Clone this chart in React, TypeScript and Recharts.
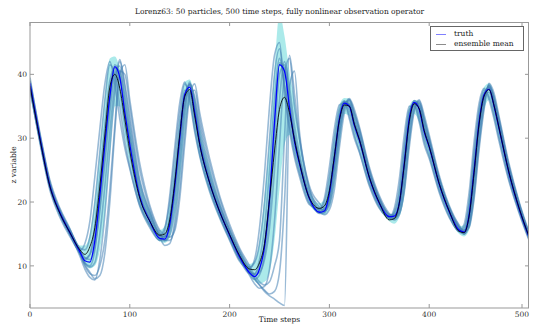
import React from 'react';
import { ComposedChart, Line, Area, XAxis, YAxis } from 'recharts';

// time grid (finer around the rising phases)
const steps = [
  0, 10, 20, 30, 40, 50,
  55, 60, 65, 70, 75, 80, 85, 90, 95, 100,
  110, 120, 130,
  135, 140, 145, 150, 155, 160, 165, 170,
  180, 190, 200, 210, 220,
  225, 230, 235, 240, 245, 250, 255, 260, 265, 270,
  280, 290,
  295, 300, 305, 310, 315, 320, 325, 330,
  340, 350, 360,
  365, 370, 375, 380, 385, 390, 395, 400,
  410, 420, 430,
  435, 440, 445, 450, 455, 460, 465, 470,
  480, 490, 500,
];

const truth = [
  38.6, 30.0, 22.5, 18.3, 15.2, 12.2,
  10.8, 10.6, 14.0, 21.0, 29.0, 36.5, 41.2, 39.5, 34.0, 29.0,
  20.8, 17.0, 14.3,
  14.2, 16.5, 22.5, 30.0, 36.8, 38.0, 34.0, 29.2,
  23.0, 18.5, 14.8, 11.4, 8.9,
  8.3, 9.5, 13.0, 20.5, 32.5, 41.5, 40.5, 34.8, 29.5, 26.0,
  20.5, 18.4,
  18.6, 21.4, 27.0, 33.0, 35.5, 35.0, 32.0, 29.7,
  23.8, 19.8, 17.7,
  17.8, 19.8, 26.0, 33.0, 35.6, 34.5, 31.0, 28.6,
  22.8, 18.5, 15.6,
  15.3, 18.0, 25.0, 32.5, 36.8, 37.7, 35.0, 31.5,
  24.5, 19.0, 14.5,
];

const ensembleMean = [
  38.2, 29.8, 22.4, 18.2, 15.2, 12.5,
  11.8, 13.0, 16.0, 22.5, 30.5, 38.0, 40.0, 37.8, 33.0, 28.0,
  20.6, 17.0, 14.8,
  15.0, 17.2, 23.0, 30.5, 36.5, 37.6, 33.5, 29.0,
  23.0, 18.5, 14.9, 11.6, 9.5,
  9.4, 10.5, 13.5, 20.5, 28.0, 34.5, 36.4, 34.0, 29.8, 26.2,
  20.6, 19.0,
  19.4, 21.8, 27.2, 32.8, 35.2, 35.0, 32.2, 29.8,
  23.9, 19.9, 17.2,
  17.4, 19.8, 25.8, 32.6, 35.4, 34.6, 31.2, 28.7,
  22.9, 18.6, 15.4,
  15.2, 17.8, 24.6, 32.2, 36.6, 37.6, 35.1, 31.6,
  24.6, 19.1, 14.6,
];

const spreadLow = [
  37.2, 29.0, 21.8, 17.6, 14.6, 11.6,
  10.2, 9.6, 10.0, 12.5, 18.0, 27.0, 35.0, 35.0, 30.0, 25.8,
  19.3, 16.0, 13.8,
  13.6, 14.4, 17.5, 23.0, 31.0, 35.2, 31.0, 27.0,
  21.5, 17.4, 14.0, 10.7, 8.6,
  7.6, 7.2, 7.5, 9.0, 14.0, 22.0, 29.0, 30.5, 27.5, 24.3,
  19.6, 18.2,
  18.0, 19.0, 22.5, 28.5, 33.8, 33.5, 30.2, 27.9,
  22.6, 19.0, 17.0,
  16.6, 17.6, 21.0, 28.5, 33.8, 32.5, 29.5, 26.9,
  21.6, 17.6, 15.0,
  14.6, 15.6, 20.5, 28.2, 34.5, 36.0, 33.2, 29.8,
  23.4, 18.4, 14.0,
];

const spreadHigh = [
  39.4, 30.7, 23.1, 18.9, 15.9, 13.2,
  13.2, 15.0, 20.5, 28.0, 36.5, 42.5, 42.8, 41.0, 37.5, 32.5,
  23.5, 18.8, 15.6,
  16.2, 20.0, 26.5, 33.5, 38.8, 39.2, 36.5, 32.0,
  25.5, 20.0, 15.9, 12.5, 10.3,
  10.8, 14.0, 21.0, 30.0, 41.0, 49.5, 46.0, 40.5, 36.0, 30.0,
  22.0, 19.8,
  20.4, 24.5, 31.0, 35.2, 36.3, 36.2, 34.2, 31.6,
  25.2, 20.8, 18.0,
  18.6, 22.5, 29.5, 35.0, 36.0, 35.8, 33.5, 30.4,
  24.2, 19.6, 16.2,
  16.4, 21.0, 28.5, 35.0, 38.0, 38.6, 36.8, 33.2,
  25.8, 19.9, 15.2,
];

const particleA = [
  39.5, 30.5, 23.0, 18.5, 15.5, 12.8,
  12.5, 14.5, 20.0, 28.0, 36.0, 41.5, 40.0, 35.0, 29.5, 25.5,
  19.5, 16.5, 14.8,
  16.0, 20.0, 27.0, 34.0, 38.5, 36.5, 31.5, 27.5,
  22.0, 17.8, 14.2, 11.0, 9.8,
  10.5, 13.5, 20.0, 30.0, 40.0, 44.0, 38.0, 32.0, 27.5, 24.5,
  19.8, 18.8,
  20.0, 24.0, 30.0, 34.5, 35.8, 33.5, 30.5, 28.0,
  22.8, 19.2, 17.5,
  18.5, 22.0, 29.0, 34.5, 35.3, 33.0, 29.5, 27.2,
  21.8, 17.8, 15.4,
  16.0, 20.0, 28.0, 34.5, 37.5, 36.5, 33.5, 30.0,
  23.5, 18.5, 14.2,
];

const particleB = [
  37.5, 29.5, 22.3, 18.2, 15.0, 11.5,
  9.5, 8.2, 7.8, 11.0, 18.0, 28.0, 37.0, 42.0, 38.5, 33.5,
  23.5, 18.5, 14.5,
  13.2, 13.5, 17.0, 24.5, 33.0, 38.5, 36.5, 32.0,
  25.0, 19.8, 15.5, 12.0, 8.5,
  7.2, 6.5, 6.8, 9.5, 17.0, 29.0, 40.0, 42.5, 35.0, 30.0,
  22.0, 18.6,
  18.0, 18.8, 22.0, 28.5, 34.0, 36.0, 34.0, 31.5,
  25.0, 20.5, 17.8,
  17.2, 18.0, 22.0, 29.5, 34.5, 35.8, 33.0, 30.0,
  23.8, 19.0, 16.0,
  15.0, 16.2, 21.0, 29.0, 35.0, 38.3, 36.5, 33.0,
  25.5, 19.8, 14.8,
];

const particleC = [
  38.2, 29.8, 22.6, 18.5, 15.4, 12.0,
  10.0, 8.8, 8.5, 10.0, 14.0, 22.0, 32.0, 40.5, 40.0, 35.0,
  25.0, 19.0, 15.2,
  14.0, 14.0, 16.0, 22.0, 30.5, 37.0, 37.5, 33.0,
  26.0, 20.5, 16.0, 12.5, 9.5,
  8.0, 7.0, 6.0, 5.3, 4.8, 4.2, 3.8, 33.5, 30.0, 26.5,
  20.8, 18.2,
  18.3, 20.5, 26.0, 32.5, 35.8, 35.3, 32.5, 30.2,
  24.3, 20.2, 17.4,
  17.3, 19.3, 25.0, 32.5, 35.9, 35.0, 31.6, 29.2,
  23.2, 18.8, 15.9,
  15.0, 17.4, 24.0, 31.8, 36.6, 38.0, 35.6, 32.0,
  25.0, 19.3, 14.9,
];

const particleD = [
  38.9, 30.4, 23.0, 18.8, 15.7, 12.6,
  11.3, 11.0, 13.0, 18.5, 26.0, 34.0, 40.0, 41.3, 36.5, 31.2,
  22.3, 17.8, 14.8,
  14.5, 15.8, 21.0, 28.5, 35.5, 38.8, 35.2, 30.2,
  23.8, 19.2, 15.3, 11.9, 9.2,
  8.6, 9.0, 11.0, 16.0, 25.0, 36.0, 42.0, 38.0, 32.0, 27.5,
  21.3, 18.9,
  18.8, 20.8, 25.8, 31.8, 35.3, 35.7, 33.2, 30.6,
  24.6, 20.4, 18.1,
  17.9, 19.2, 24.5, 31.8, 35.4, 35.4, 32.2, 29.5,
  23.5, 19.1, 16.1,
  15.6, 17.2, 23.5, 31.2, 36.3, 38.2, 35.8, 32.4,
  25.2, 19.6, 15.1,
];

const particleE = [
  38.0, 29.6, 22.2, 18.0, 14.9, 12.0,
  11.0, 11.8, 16.5, 24.0, 32.0, 39.0, 41.0, 37.5, 32.0, 27.5,
  20.0, 16.4, 14.0,
  14.5, 18.0, 24.5, 32.0, 37.5, 37.2, 32.8, 28.4,
  22.4, 18.0, 14.4, 11.0, 8.8,
  8.8, 11.0, 16.0, 25.0, 36.0, 42.5, 38.5, 33.5, 28.5, 25.3,
  20.2, 18.4,
  19.2, 22.5, 28.3, 33.8, 35.6, 34.4, 31.4, 29.2,
  23.3, 19.5, 17.6,
  18.2, 20.8, 27.5, 34.0, 35.5, 33.8, 30.3, 28.0,
  22.3, 18.2, 15.4,
  15.6, 19.0, 26.5, 33.5, 37.2, 37.2, 34.4, 31.0,
  24.0, 18.7, 14.3,
];

const particleF = [
  39.0, 30.8, 23.4, 19.0, 15.8, 12.0,
  10.2, 9.0, 8.0, 8.5, 12.0, 20.0, 31.0, 40.0, 41.5, 36.0,
  26.0, 19.5, 15.6,
  14.8, 14.5, 15.5, 20.5, 29.0, 36.5, 38.5, 34.0,
  26.8, 21.0, 16.5, 12.8, 10.0,
  8.5, 7.5, 7.0, 7.5, 10.0, 14.0, 30.0, 43.0, 37.0, 30.0,
  22.0, 19.2,
  18.6, 19.5, 23.5, 30.0, 34.8, 36.2, 34.5, 31.8,
  25.5, 21.0, 18.2,
  17.6, 18.2, 21.5, 28.5, 34.2, 36.0, 33.6, 30.5,
  24.2, 19.5, 16.4,
  15.4, 16.0, 20.5, 28.2, 34.5, 38.6, 37.0, 33.4,
  26.0, 20.1, 15.3,
];

const particleG = [
  37.8, 29.2, 21.8, 17.6, 14.6, 12.4,
  13.5, 17.0, 24.0, 31.5, 38.5, 42.0, 38.5, 33.0, 28.5, 25.2,
  19.3, 16.0, 14.0,
  15.5, 21.0, 28.5, 35.5, 38.8, 35.8, 31.0, 27.2,
  21.6, 17.5, 14.0, 10.7, 9.6,
  11.0, 16.0, 24.5, 35.0, 43.0, 45.0, 37.0, 31.2, 27.0, 24.0,
  19.6, 19.0,
  20.6, 25.5, 31.5, 35.2, 35.5, 33.0, 30.0, 27.8,
  22.5, 19.0, 17.7,
  19.0, 23.5, 30.5, 35.0, 35.0, 32.5, 29.0, 26.8,
  21.5, 17.6, 15.5,
  16.5, 21.5, 29.5, 35.5, 37.8, 36.0, 33.0, 29.5,
  23.2, 18.3, 14.0,
];

const particleH = [
  38.4, 30.2, 22.9, 18.6, 15.5, 12.3,
  10.5, 9.8, 10.5, 15.0, 22.5, 31.0, 38.5, 42.3, 38.0, 32.5,
  23.0, 18.2, 14.9,
  14.0, 14.8, 19.0, 26.5, 34.5, 38.5, 36.0, 31.0,
  24.3, 19.5, 15.6, 12.2, 9.3,
  8.0, 7.0, 6.2, 5.6, 6.0, 9.0, 20.0, 38.0, 40.5, 31.0,
  22.5, 19.8,
  19.0, 19.8, 24.5, 30.8, 35.0, 36.0, 33.8, 31.2,
  25.1, 20.7, 17.9,
  17.5, 18.6, 23.0, 30.5, 35.0, 35.6, 32.8, 29.8,
  23.7, 19.2, 16.2,
  15.2, 16.5, 22.0, 30.0, 35.5, 38.4, 36.2, 32.8,
  25.6, 19.9, 15.0,
];

const particleI = [
  38.8, 30.1, 22.7, 18.4, 15.3, 12.4,
  11.2, 11.8, 15.0, 21.5, 29.5, 37.0, 41.5, 39.8, 34.5, 29.8,
  21.2, 17.3, 14.6,
  14.6, 17.0, 23.0, 30.5, 37.0, 38.3, 34.3, 29.6,
  23.3, 18.8, 15.0, 11.6, 9.1,
  8.7, 10.0, 13.5, 21.0, 32.5, 41.8, 41.0, 35.5, 30.2, 26.5,
  20.8, 18.6,
  18.8, 21.6, 27.3, 33.3, 35.7, 35.2, 32.3, 30.0,
  24.1, 20.0, 17.9,
  18.0, 20.0, 26.3, 33.3, 35.8, 34.8, 31.3, 28.9,
  23.1, 18.7, 15.8,
  15.5, 18.2, 25.3, 32.8, 37.0, 37.9, 35.3, 31.8,
  24.8, 19.2, 14.7,
];

const particleJ = [
  38.3, 29.7, 22.3, 18.1, 15.0, 11.9,
  10.4, 10.0, 12.5, 19.5, 27.5, 35.5, 41.0, 40.5, 35.5, 30.3,
  21.5, 17.4, 14.2,
  13.9, 15.6, 21.5, 29.0, 36.0, 38.4, 34.8, 29.8,
  23.4, 18.7, 14.9, 11.4, 8.7,
  7.9, 8.6, 11.8, 18.5, 29.5, 40.0, 41.5, 36.5, 30.5, 26.6,
  20.6, 18.3,
  18.4, 20.6, 26.0, 32.2, 35.4, 35.4, 32.6, 30.1,
  24.0, 19.8, 17.5,
  17.5, 19.2, 25.0, 32.2, 35.5, 35.0, 31.7, 29.0,
  23.0, 18.6, 15.4,
  15.0, 17.2, 24.0, 31.8, 36.5, 38.0, 35.5, 31.9,
  24.8, 19.1, 14.6,
];

const particles = [particleA, particleB, particleC, particleD, particleE, particleF, particleG, particleH, particleI, particleJ];

const xTicks = [0, 100, 200, 300, 400, 500];
const yTicks = [10, 20, 30, 40];

const rows = steps.map((t, i) => {
  const row: Record<string, any> = {
    t,
    truth: truth[i],
    mean: ensembleMean[i],
    spread: [spreadLow[i], spreadHigh[i]],
  };
  particles.forEach((p, k) => {
    row['p' + k] = p[i];
  });
  return row;
});

const FONT = 'DejaVu Serif';
const FRAME = '#999';

const BottomTick = (props: any) => {
  const { x, y, payload } = props;
  return (
    <g>
      <line x1={x} x2={x} y1={y} y2={y - 4} stroke={FRAME} />
      <line x1={x} x2={x} y1={22} y2={26} stroke={FRAME} />
      <text x={x} y={y + 9} textAnchor="middle" fontFamily={FONT} fontSize={7.5} fill="#333">
        {payload.value}
      </text>
    </g>
  );
};

const LeftTick = (props: any) => {
  const { x, y, payload } = props;
  return (
    <g>
      <line x1={x} x2={x + 4} y1={y} y2={y} stroke={FRAME} />
      <line x1={529} x2={525} y1={y} y2={y} stroke={FRAME} />
      <text x={x - 3} y={y + 2.7} textAnchor="end" fontFamily={FONT} fontSize={7.5} fill="#333">
        {payload.value}
      </text>
    </g>
  );
};

const legendLine = (color: string) => (
  <span style={{ display: 'inline-block', width: 10, height: 0, borderTop: `1.5px solid ${color}`, marginRight: 8 }} />
);

export default function App() {
  return (
    <div style={{ position: 'absolute', left: 0, top: 0, width: 534, height: 325, background: '#fff', overflow: 'hidden' }}>
      <ComposedChart width={534} height={325} data={rows} margin={{ top: 22, right: 5, bottom: 0, left: 0 }}>
        <XAxis
          dataKey="t"
          type="number"
          domain={[0, 500]}
          ticks={xTicks}
          height={17}
          axisLine={{ stroke: FRAME }}
          tickLine={false}
          tickSize={0}
          tickMargin={0}
          tick={<BottomTick />}
          allowDataOverflow
        />
        <YAxis
          type="number"
          domain={[3.4, 48.2]}
          ticks={yTicks}
          width={30}
          axisLine={{ stroke: FRAME }}
          tickLine={false}
          tickSize={0}
          tickMargin={0}
          tick={<LeftTick />}
          allowDataOverflow
        />
        <Area
          dataKey="spread"
          type="monotone"
          stroke="none"
          fill="#00bfbf"
          fillOpacity={0.33}
          isAnimationActive={false}
        />
        {particles.map((_, k) => (
          <Line
            key={k}
            dataKey={'p' + k}
            type="monotone"
            stroke="#4682b4"
            strokeOpacity={0.55}
            strokeWidth={1.6}
            dot={false}
            isAnimationActive={false}
          />
        ))}
        <Line dataKey="truth" type="monotone" stroke="#0000ff" strokeWidth={1.3} dot={false} isAnimationActive={false} />
        <Line dataKey="mean" type="monotone" stroke="#000" strokeOpacity={0.85} strokeWidth={1} dot={false} isAnimationActive={false} />
      </ComposedChart>

      {/* plot frame (top and right sides) */}
      <div
        style={{
          position: 'absolute',
          left: 30,
          top: 22,
          width: 499,
          height: 286,
          boxSizing: 'border-box',
          borderTop: `1px solid ${FRAME}`,
          borderRight: `1px solid ${FRAME}`,
          pointerEvents: 'none',
        }}
      />
      <div style={{ position: 'absolute', left: 30, width: 499, top: 7, textAlign: 'center', fontFamily: FONT, fontSize: 7.5, color: '#222' }}>
        Lorenz63: 50 particles, 500 time steps, fully nonlinear observation operator
      </div>
      <div style={{ position: 'absolute', left: 30, width: 499, top: 315, textAlign: 'center', fontFamily: FONT, fontSize: 7.5, color: '#222' }}>
        Time steps
      </div>
      <div
        style={{
          position: 'absolute',
          left: 13,
          top: 165,
          transform: 'translate(-50%, -50%) rotate(-90deg)',
          fontFamily: FONT,
          fontSize: 7.5,
          color: '#222',
          whiteSpace: 'nowrap',
        }}
      >
        z variable
      </div>
      <div
        style={{
          position: 'absolute',
          left: 430,
          top: 26,
          width: 94,
          height: 25,
          border: '1px solid #666',
          background: '#fff',
          boxSizing: 'border-box',
          fontFamily: FONT,
          fontSize: 7.5,
          color: '#222',
          padding: '2px 0 0 5px',
          lineHeight: '10px',
        }}
      >
        <div style={{ display: 'flex', alignItems: 'center' }}>
          {legendLine('#8080ff')}
          truth
        </div>
        <div style={{ display: 'flex', alignItems: 'center' }}>
          {legendLine('#8c8c8c')}
          ensemble mean
        </div>
      </div>
    </div>
  );
}
